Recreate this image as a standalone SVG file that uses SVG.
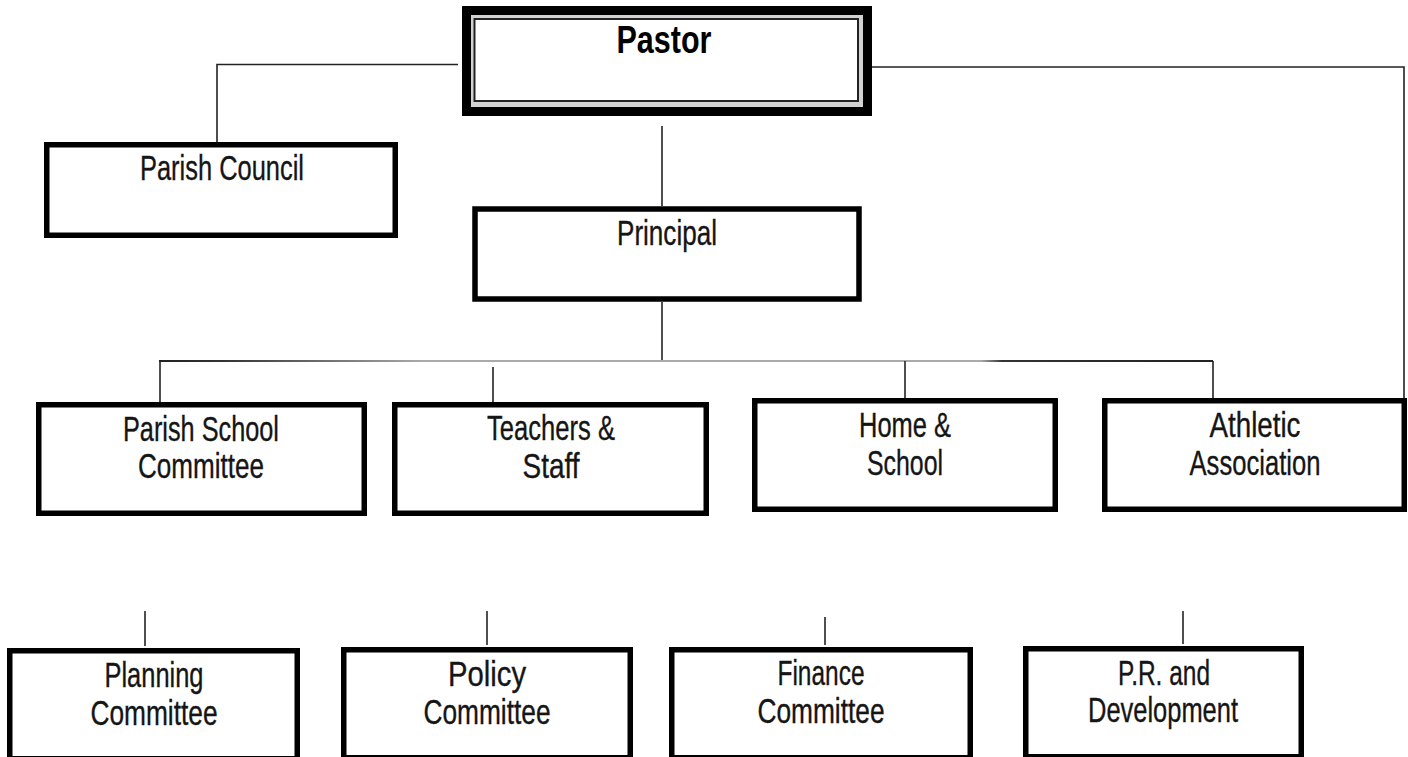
<svg xmlns="http://www.w3.org/2000/svg" width="1408" height="757" viewBox="0 0 1408 757">
  <defs>
    <linearGradient id="busGrad" gradientUnits="userSpaceOnUse" x1="159" y1="0" x2="1213" y2="0">
      <stop offset="0" stop-color="#222"/>
      <stop offset="0.06" stop-color="#333"/>
      <stop offset="0.17" stop-color="#777"/>
      <stop offset="0.25" stop-color="#aaa"/>
      <stop offset="0.78" stop-color="#aaa"/>
      <stop offset="0.8" stop-color="#333"/>
      <stop offset="1" stop-color="#222"/>
    </linearGradient>
  </defs>
  <style>
    .box { fill: #fff; stroke: #000; stroke-width: 5.5; }
    .lbl { font-family: "Liberation Sans", Arial, sans-serif; font-size: 34.5px; fill: #151515; stroke: #151515; stroke-width: 0.35; text-anchor: middle; }
    .title { font-family: "Liberation Sans", Arial, sans-serif; font-size: 39px; font-weight: bold; fill: #000; text-anchor: middle; }
    .ln { fill: none; stroke: #222; stroke-width: 1.6; }
  </style>
  <rect width="1408" height="757" fill="#fff"/>

  <g id="connectors">
    <polyline class="ln" points="458,64.5 217,64.5 217,142"/>
    <polyline class="ln" points="872,67 1404,67 1404,408"/>
    <line class="ln" x1="1393" y1="408" x2="1404" y2="408"/>
    <line class="ln" x1="662" y1="126" x2="662" y2="206"/>
    <line class="ln" x1="662" y1="302" x2="662" y2="361"/>
    <line x1="159" y1="361" x2="1213" y2="361" stroke="url(#busGrad)" stroke-width="2"/>
    <line class="ln" x1="160" y1="361" x2="160" y2="402"/>
    <line class="ln" x1="493" y1="367" x2="493" y2="402"/>
    <line class="ln" x1="905" y1="361" x2="905" y2="398"/>
    <line class="ln" x1="1213" y1="361" x2="1213" y2="398"/>
    <line class="ln" x1="145" y1="611" x2="145" y2="646"/>
    <line class="ln" x1="487" y1="611" x2="487" y2="645"/>
    <line class="ln" x1="825" y1="617" x2="825" y2="645"/>
    <line class="ln" x1="1183" y1="611" x2="1183" y2="644"/>
  </g>

  <g id="pastor">
    <rect x="466.5" y="10.5" width="401" height="101" fill="#d2d2d2" stroke="#000" stroke-width="9"/>
    <rect x="474.5" y="19" width="383.5" height="82" fill="#fff" stroke="#222" stroke-width="2"/>
    <text class="title" x="664" y="53" textLength="95" lengthAdjust="spacingAndGlyphs">Pastor</text>
  </g>

  <g id="parish-council">
    <rect class="box" x="46.75" y="144.75" width="348.5" height="90.5"/>
    <text class="lbl" x="222" y="180" textLength="164" lengthAdjust="spacingAndGlyphs">Parish Council</text>
  </g>

  <g id="principal">
    <rect class="box" x="475" y="209" width="384" height="90" stroke-width="6"/>
    <text class="lbl" x="667" y="245" textLength="100" lengthAdjust="spacingAndGlyphs">Principal</text>
  </g>

  <g id="parish-school-committee">
    <rect class="box" x="38.75" y="404.75" width="325.5" height="108.5"/>
    <text class="lbl" x="201" y="441" textLength="156" lengthAdjust="spacingAndGlyphs">Parish School</text>
    <text class="lbl" x="201" y="478" textLength="126" lengthAdjust="spacingAndGlyphs">Committee</text>
  </g>

  <g id="teachers-staff">
    <rect class="box" x="394.75" y="404.75" width="311.5" height="108.5"/>
    <text class="lbl" x="551" y="440" textLength="128" lengthAdjust="spacingAndGlyphs">Teachers &amp;</text>
    <text class="lbl" x="551" y="478" textLength="57" lengthAdjust="spacingAndGlyphs">Staff</text>
  </g>

  <g id="home-school">
    <rect class="box" x="754.75" y="400.75" width="300.5" height="108.5"/>
    <text class="lbl" x="905" y="437" textLength="92" lengthAdjust="spacingAndGlyphs">Home &amp;</text>
    <text class="lbl" x="905" y="475" textLength="76" lengthAdjust="spacingAndGlyphs">School</text>
  </g>

  <g id="athletic-association">
    <rect class="box" x="1104.75" y="400.75" width="299.5" height="108.5"/>
    <text class="lbl" x="1255" y="437" textLength="91" lengthAdjust="spacingAndGlyphs">Athletic</text>
    <text class="lbl" x="1255" y="475" textLength="131" lengthAdjust="spacingAndGlyphs">Association</text>
  </g>

  <g id="planning-committee">
    <rect class="box" x="9.75" y="650.75" width="287.5" height="108"/>
    <text class="lbl" x="154" y="687" textLength="99" lengthAdjust="spacingAndGlyphs">Planning</text>
    <text class="lbl" x="154" y="725" textLength="127" lengthAdjust="spacingAndGlyphs">Committee</text>
  </g>

  <g id="policy-committee">
    <rect class="box" x="343.75" y="649.75" width="286.5" height="108"/>
    <text class="lbl" x="487" y="686" textLength="78" lengthAdjust="spacingAndGlyphs">Policy</text>
    <text class="lbl" x="487" y="724" textLength="127" lengthAdjust="spacingAndGlyphs">Committee</text>
  </g>

  <g id="finance-committee">
    <rect class="box" x="671.75" y="649.75" width="298.5" height="108"/>
    <text class="lbl" x="821" y="685" textLength="87" lengthAdjust="spacingAndGlyphs">Finance</text>
    <text class="lbl" x="821" y="723" textLength="127" lengthAdjust="spacingAndGlyphs">Committee</text>
  </g>

  <g id="pr-development">
    <rect class="box" x="1025.75" y="648.75" width="275.5" height="108"/>
    <text class="lbl" x="1164" y="685" textLength="92" lengthAdjust="spacingAndGlyphs">P.R. and</text>
    <text class="lbl" x="1163" y="722" textLength="150" lengthAdjust="spacingAndGlyphs">Development</text>
  </g>
</svg>
